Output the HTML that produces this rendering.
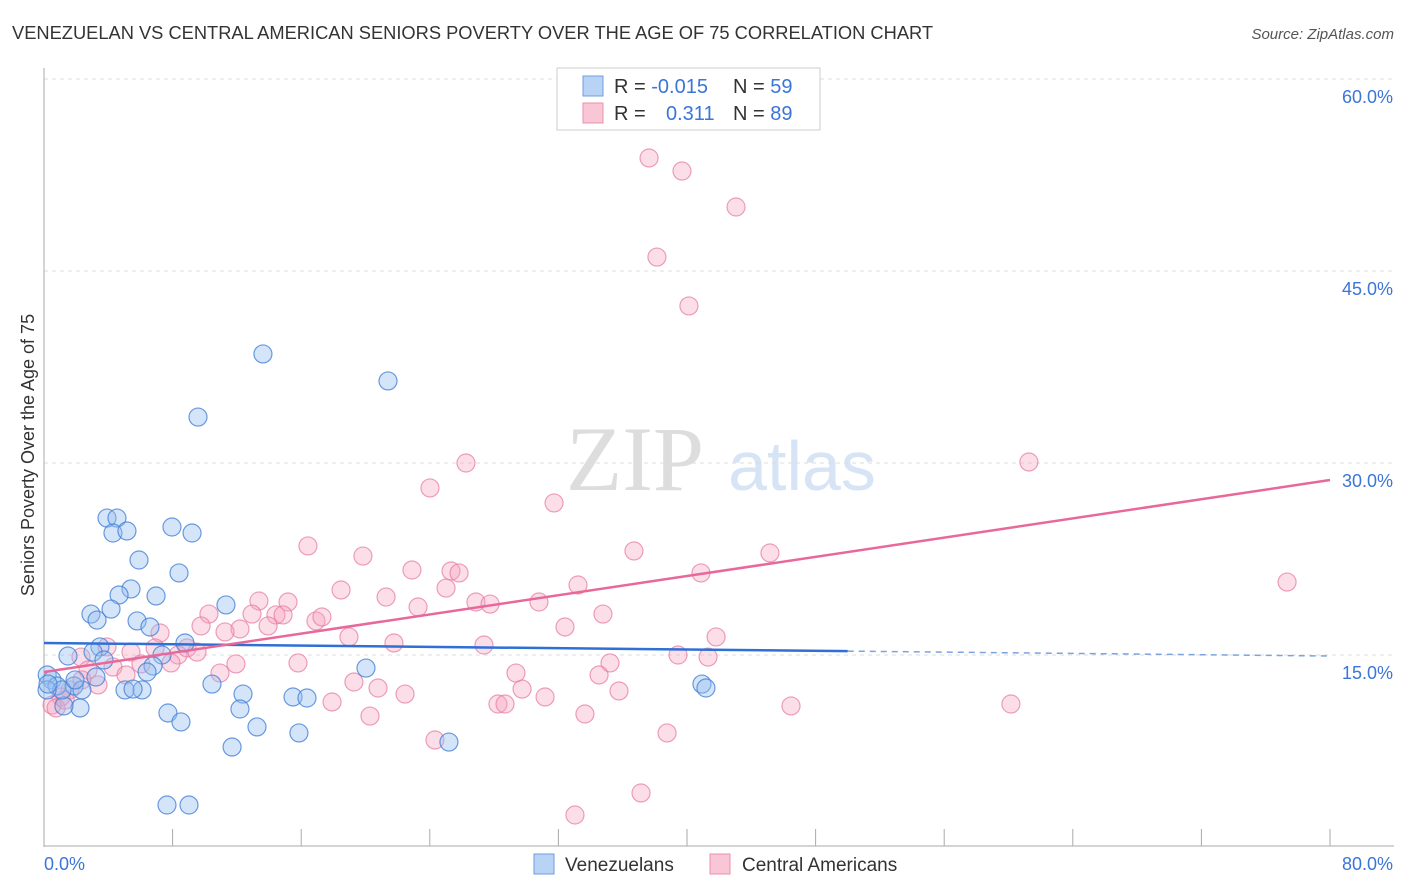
<!DOCTYPE html>
<html><head><meta charset="utf-8"><style>
body{margin:0;background:#fff;font-family:"Liberation Sans",sans-serif;}
svg{display:block}
</style></head><body>
<svg id="chart" width="1406" height="892" xmlns="http://www.w3.org/2000/svg">
<text x="12" y="39" font-size="18.3" fill="#333">VENEZUELAN VS CENTRAL AMERICAN SENIORS POVERTY OVER THE AGE OF 75 CORRELATION CHART</text>
<text x="1394" y="39" font-size="15" fill="#555" font-style="italic" text-anchor="end">Source: ZipAtlas.com</text>
<g>
<text x="635" y="490" font-size="92" fill="#ddd" font-family="Liberation Serif,serif" text-anchor="middle">ZIP</text>
<text x="802" y="490" font-size="70" fill="#d6e4f5" text-anchor="middle">atlas</text>
</g>
<g id="grid"></g>
<g id="axes"></g>
<g id="pts"></g>
<g id="lines"></g>
<text transform="translate(34,455) rotate(-90)" font-size="18" fill="#333" text-anchor="middle">Seniors Poverty Over the Age of 75</text>
<g>
<rect x="557" y="68" width="263" height="62" fill="#fff" stroke="#ccc"/>
<rect x="583" y="76" width="20" height="20" fill="#b9d3f5" stroke="#6d9de0"/>
<rect x="583" y="103" width="20" height="20" fill="#f9c6d6" stroke="#ec8fae"/>
<text x="614" y="93" font-size="20" fill="#333">R = <tspan fill="#3a75d8">-0.015</tspan></text>
<text x="733" y="93" font-size="20" fill="#333">N = <tspan fill="#3a75d8">59</tspan></text>
<text x="614" y="120" font-size="20" fill="#333">R = </text>
<text x="666" y="120" font-size="20" fill="#3a75d8">0.311</text>
<text x="733" y="120" font-size="20" fill="#333">N = <tspan fill="#3a75d8">89</tspan></text>
</g>
<g>
<rect x="534" y="854" width="20" height="20" fill="#b9d3f5" stroke="#6d9de0"/>
<text x="565" y="871" font-size="19" fill="#333">Venezuelans</text>
<rect x="710" y="854" width="20" height="20" fill="#f9c6d6" stroke="#ec8fae"/>
<text x="742" y="871" font-size="19" fill="#333">Central Americans</text>
</g>
</svg>
<script>
const xTicks=[0,8,16,24,32,40,48,56,64,72,80];
const yTicks=[15,30,45,60];
const yTickLabels=["15.0%","30.0%","45.0%","60.0%"];
const blueX=[13.62,21.40,9.58,3.92,4.54,4.29,5.16,7.96,9.21,5.91,8.40,5.41,4.67,6.97,2.92,4.17,11.32,3.30,5.79,6.59,8.77,3.48,3.05,1.49,7.34,6.78,3.73,6.41,20.03,0.2,0.50,0.81,1.87,2.36,3.23,5.04,6.10,5.54,10.45,12.38,15.49,16.36,40.93,41.18,2.24,1.24,7.71,8.52,12.19,13.25,15.86,11.70,25.19,7.65,9.02,1.12,0.19,0.25,1.93];
const blueY=[38.52,36.41,33.59,25.70,25.70,24.53,24.69,25.0,24.53,22.42,21.41,20.16,19.69,19.61,18.20,18.59,18.91,17.73,17.66,17.19,15.94,15.63,15.23,14.92,15.0,14.14,14.61,13.67,13.98,13.44,13.05,12.58,12.58,12.27,13.28,12.27,12.27,12.34,12.73,11.95,11.72,11.64,12.73,12.42,10.86,11.02,10.47,9.77,10.78,9.38,8.91,7.81,8.20,3.28,3.28,12.27,12.27,12.73,13.05];
const pinkX=[37.64,39.69,43.05,38.13,40.12,26.25,61.27,24.01,31.73,16.42,36.70,19.84,45.16,77.33,22.89,25.32,25.82,40.87,33.22,18.48,21.28,25.01,26.87,27.75,30.79,13.37,15.18,23.27,12.94,34.77,10.26,14.43,14.87,16.92,17.29,9.77,13.94,32.41,12.19,11.26,7.22,18.97,21.77,41.81,27.37,3.92,6.91,8.90,8.34,9.52,5.41,2.30,39.44,41.31,15.80,11.94,35.21,7.90,6.03,4.29,2.74,5.10,10.95,29.36,34.53,19.28,20.78,29.74,35.77,22.46,31.17,17.92,28.24,28.68,46.47,60.15,20.28,33.65,38.76,24.32,37.14,33.03,1.62,1.06,0.50,0.75,1.31,3.36,2.36];
const pinkY=[53.83,52.81,50.0,46.09,42.27,30.0,30.08,28.05,26.88,23.52,23.13,22.73,22.97,20.70,21.64,21.56,21.41,21.41,20.47,20.08,19.53,20.23,19.14,18.98,19.14,19.22,19.14,18.75,18.20,18.20,18.20,18.13,18.13,17.66,17.97,17.27,17.27,17.19,17.03,16.80,16.72,16.41,15.94,16.41,15.78,15.63,15.55,15.55,15.0,15.23,15.23,14.84,15.0,14.84,14.38,14.30,14.38,14.38,14.30,14.06,13.83,13.44,13.59,13.59,13.44,12.89,12.42,12.34,12.19,11.95,11.72,11.33,11.17,11.17,11.02,11.17,10.23,10.39,8.91,8.36,4.22,2.50,12.27,11.72,11.09,10.86,11.48,12.66,13.05];
const blueTrend=[15.94,14.92];
const pinkTrend=[13.67,28.67];
const blueSolidEnd=50;

const NS="http://www.w3.org/2000/svg";
const X0=44,X1=1330,YB=847,PXPER=192/15;
const xs=v=>X0+(v/80)*(X1-X0);
const ys=v=>YB-v*PXPER;
function mk(tag,attrs,parent){const e=document.createElementNS(NS,tag);for(const k in attrs)e.setAttribute(k,attrs[k]);parent.appendChild(e);return e;}
const grid=document.getElementById('grid'),axes=document.getElementById('axes'),pts=document.getElementById('pts'),lines=document.getElementById('lines');
yTicks.forEach((t,i)=>{
 const g=mk('line',{x1:X0,x2:1394,y1:ys(t),y2:ys(t),stroke:'#ddd','stroke-dasharray':'4,4'},grid);
 
 
 const tx=mk('text',{x:1393,y:ys(t)+24,'font-size':18,fill:'#3a75d8','text-anchor':'end'},axes);
 tx.textContent=yTickLabels[i];
 
 
});
const ya=mk('line',{x1:X0,x2:X0,y1:68,y2:YB,stroke:'#aaa'},axes);


const xa=mk('line',{x1:X0,x2:1394,y1:YB-1,y2:YB-1,stroke:'#aaa'},axes);


xTicks.forEach(t=>{
 const l=mk('line',{x1:xs(t),x2:xs(t),y1:YB-1,y2:YB-18,stroke:'#aaa'},axes);
 
 
});
[[0,'0.0%','start'],[80,'80.0%','end']].forEach(a=>{
 const t=mk('text',{x:a[0]==0?44:1393,y:870,'font-size':18,fill:'#3a75d8','text-anchor':a[2]},axes);
 t.textContent=a[1];
 
 
});
pinkX.forEach((v,i)=>{
 const c=mk('circle',{cx:xs(v),cy:ys(pinkY[i]),r:9,fill:'rgba(245,160,190,0.35)',stroke:'rgba(230,120,160,0.7)','stroke-width':1.2},pts);
 
 
});
blueX.forEach((v,i)=>{
 const c=mk('circle',{cx:xs(v),cy:ys(blueY[i]),r:9,fill:'rgba(150,190,240,0.4)',stroke:'rgba(70,130,215,0.8)','stroke-width':1.2},pts);
 
 
});
const bAt=v=>blueTrend[0]+(blueTrend[1]-blueTrend[0])*v/80;
const b1=mk('line',{x1:xs(0),y1:ys(bAt(0)),x2:xs(blueSolidEnd),y2:ys(bAt(blueSolidEnd)),stroke:'#2f6fd6','stroke-width':2.5},lines);


const b2=mk('line',{x1:xs(blueSolidEnd),y1:ys(bAt(blueSolidEnd)),x2:xs(80),y2:ys(bAt(80)),stroke:'#7aa3e0','stroke-width':1.5,'stroke-dasharray':'6,5'},lines);


const p1=mk('line',{x1:xs(0),y1:ys(pinkTrend[0]),x2:xs(80),y2:ys(pinkTrend[1]),stroke:'#e8689a','stroke-width':2.5},lines);


</script>
</body></html>
